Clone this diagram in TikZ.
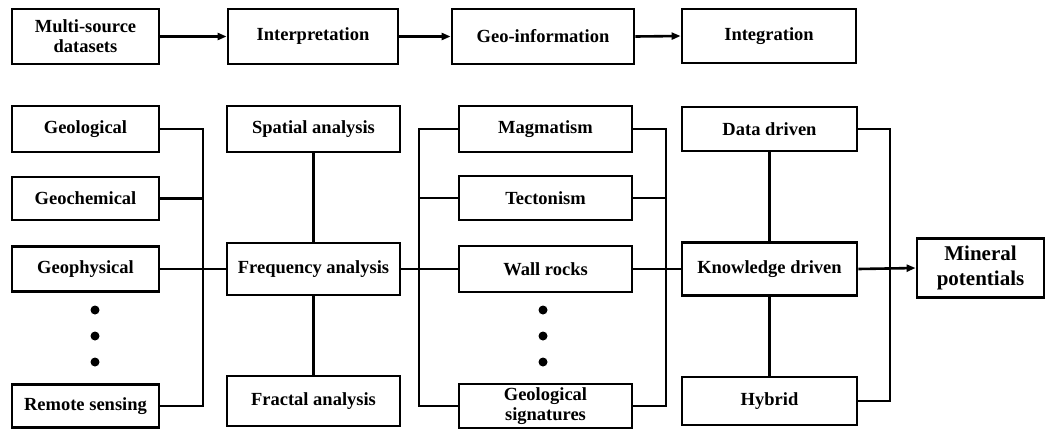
\documentclass[tikz,border=0pt]{standalone}
\usepackage{fontspec}
\setmainfont{Liberation Serif}
\usetikzlibrary{arrows.meta}
\begin{document}
\begin{tikzpicture}[x=1pt,y=-1pt,
  box/.style={draw, line width=2.8pt, inner sep=0pt, align=center,
    font=\fontsize{18.5}{20}\selectfont\bfseries},
  link/.style={line width=2.6pt, line join=miter},
  arr/.style={link, -{Triangle[length=9pt,width=7pt]}},
  dotmark/.style={circle, fill=black, inner sep=0pt, minimum size=9pt}]
\useasboundingbox (0,0) rectangle (1046,429);
% top row
\node[box, minimum width=147pt, minimum height=55pt] (ms) at (85.5,36.5) {Multi-source\\datasets};
\node[box, minimum width=170pt, minimum height=55pt] (interp) at (313,36.5) {Interpretation};
\node[box, minimum width=182pt, minimum height=55pt] (geoinfo) at (543,36.5) {Geo-information};
\node[box, minimum width=174pt, minimum height=54pt] (integ) at (769,36) {Integration};
\draw[arr] (ms.east) -- (interp.west);
\draw[arr] (interp.east) -- (geoinfo.west);
\draw[arr] (geoinfo.east) -- (integ.west);
% column 1
\node[box, minimum width=147pt, minimum height=46pt] (geol) at (85.5,129) {Geological};
\node[box, minimum width=147pt, minimum height=43pt] (geoch) at (85.5,198.5) {Geochemical};
\node[box, minimum width=147pt, minimum height=45pt] (geoph) at (85.5,269) {Geophysical};
\node[box, minimum width=147pt, minimum height=43pt] (remote) at (85.5,406) {Remote sensing};
\node[dotmark] (d1) at (95,310) {};
\node[dotmark] (d2) at (95,336) {};
\node[dotmark] (d3) at (95,362) {};
% column 2
\node[box, minimum width=173pt, minimum height=46pt] (spatial) at (313.5,129) {Spatial analysis};
\node[box, minimum width=173pt, minimum height=52pt] (freq) at (313.5,269) {Frequency analysis};
\node[box, minimum width=173pt, minimum height=50pt] (fractal) at (313.5,401) {Fractal analysis};
% column 3
\node[box, minimum width=173pt, minimum height=46pt] (magm) at (545.5,129) {Magmatism};
\node[box, minimum width=173pt, minimum height=44pt] (tect) at (545.5,198) {Tectonism};
\node[box, minimum width=173pt, minimum height=46pt] (wall) at (545.5,269) {Wall rocks};
\node[box, minimum width=173pt, minimum height=44pt] (geosig) at (545.5,406) {Geological\\signatures};
\node[dotmark] (e1) at (543,310) {};
\node[dotmark] (e2) at (543,336) {};
\node[dotmark] (e3) at (543,362) {};
% column 4
\node[box, minimum width=175pt, minimum height=44pt] (data) at (769.5,129) {Data driven};
\node[box, minimum width=175pt, minimum height=53pt] (know) at (769.5,269) {Knowledge driven};
\node[box, minimum width=175pt, minimum height=48pt] (hybrid) at (769.5,401) {Hybrid};
\node[box, minimum width=127pt, minimum height=59pt, font=\fontsize{21}{25}\selectfont\bfseries] (mineral) at (980.5,268) {Mineral\\potentials};
% bus coordinates
\coordinate (b1t) at (203,129);
\coordinate (b1b) at (203,406);
\coordinate (b2t) at (419,129);
\coordinate (b2b) at (419,406);
\coordinate (b3t) at (666,129);
\coordinate (b3b) at (666,406);
\coordinate (b4t) at (890,129);
\coordinate (b4b) at (890,401);
% connectors column 1 -> 2
\draw[link] (geol.east) -- (b1t) -- (b1b) -- (remote.east);
\draw[link] (geoch.east) -- (geoch.east -| b1t);
\draw[link] (geoph.east) -- (freq.west);
\draw[link] (spatial.south) -- (freq.north);
\draw[link] (freq.south) -- (fractal.north);
% column 2 -> 3
\draw[link] (magm.west) -- (b2t) -- (b2b) -- (geosig.west);
\draw[link] (tect.west) -- (tect.west -| b2t);
\draw[link] (freq.east) -- (wall.west);
% column 3 -> 4
\draw[link] (magm.east) -- (b3t) -- (b3b) -- (geosig.east);
\draw[link] (tect.east) -- (tect.east -| b3t);
\draw[link] (wall.east) -- (know.west);
\draw[link] (data.south) -- (know.north);
\draw[link] (know.south) -- (hybrid.north);
% column 4 -> mineral
\draw[link] (data.east) -- (b4t) -- (b4b) -- (hybrid.east);
\draw[arr] (know.east) -- (mineral.west);
\end{tikzpicture}
\end{document}
